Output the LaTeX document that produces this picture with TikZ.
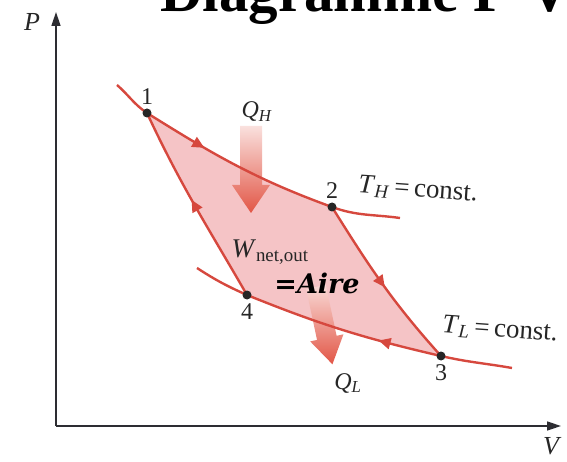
\documentclass[tikz,border=0pt]{standalone}
\usepackage{fontspec}
\setmainfont{Liberation Serif}
\newfontfamily\airefont{DejaVu Serif}
\usetikzlibrary{arrows.meta,decorations.markings}

\definecolor{cyclered}{RGB}{214,72,62}
\definecolor{cyclepink}{RGB}{245,196,198}
\definecolor{heatred}{RGB}{226,86,70}
\definecolor{axisgray}{RGB}{45,45,50}

\tikzset{
  cycleline/.style={cyclered, line width=2.4pt},
  flow/.style={postaction={decorate}, decoration={markings,
      mark=at position #1 with {\arrow{Triangle[length=12pt,width=11pt]}}}},
  backflow/.style={postaction={decorate}, decoration={markings,
      mark=at position #1 with {\arrowreversed{Triangle[length=12pt,width=11pt]}}}},
  statedot/.style={circle, fill=black!85, inner sep=0pt, minimum size=9pt,
      label distance=1pt},
  lbl/.style={text=black!85, font=\fontsize{24}{28}\selectfont},
  biglbl/.style={text=black!85, font=\fontsize{27}{30}\selectfont},
}

\begin{document}
\begin{tikzpicture}[x=1pt,y=1pt]
    \useasboundingbox (0,0) rectangle (567,461);

    % title, cut by the page edge
    \node[anchor=base west, inner sep=0pt, font=\fontsize{59}{60}\selectfont\bfseries]
        (title) at (160,449) {Diagramme P-V};

    % axes
    \coordinate (origin) at (56,35);
    \coordinate (pmax) at (56,449);
    \coordinate (vmax) at (561,35);
    \draw[axisgray, line width=1.6pt, -{Triangle[length=14pt,width=9pt]}] (origin) -- (pmax);
    \draw[axisgray, line width=1.6pt, -{Triangle[length=14pt,width=9pt]}] (origin) -- (vmax);
    \node[biglbl, font=\fontsize{26}{30}\selectfont\itshape] (plabel) at (32,439) {P};
    \node[biglbl, font=\fontsize{26}{30}\selectfont\itshape] (vlabel) at (551,15) {V};

    % states of the cycle
    \coordinate (c1) at (147,348);
    \coordinate (c2) at (332,254);
    \coordinate (c3) at (441,105);
    \coordinate (c4) at (247,166);
    \coordinate (thA) at (117,376);
    \coordinate (thB) at (400,243);
    \coordinate (tlA) at (197,193);
    \coordinate (tlB) at (512,93);

    % enclosed area
    \fill[cyclepink] (c1) to[out=-32,in=160] (c2) to[out=-58,in=132] (c3)
        to[out=167,in=-22] (c4) to[out=120,in=-65] (c1) -- cycle;

    % heat arrows
    \begin{scope}[shift={(251,335)}]
        \shade[top color=heatred!18, bottom color=heatred]
            (-11,0) -- (-11,-59) -- (-19,-59) -- (0,-87) -- (19,-59) -- (11,-59) -- (11,0) -- cycle;
    \end{scope}
    \begin{scope}[shift={(316,174)}, rotate=12]
        \shade[top color=heatred!22, bottom color=heatred]
            (-10,0) -- (-10,-52) -- (-17,-52) -- (0,-79) -- (17,-52) -- (10,-52) -- (10,0) -- cycle;
    \end{scope}

    % isotherms
    \draw[cycleline, flow=0.34] (thA) to[out=-41,in=146] (c1) to[out=-32,in=160] (c2)
        to[out=-20,in=172] (thB);
    \draw[cycleline, backflow=0.59] (tlA) to[out=-33,in=156] (c4) to[out=-22,in=167] (c3)
        to[out=-13,in=170] (tlB);
    % adiabats
    \draw[cycleline, flow=0.52] (c2) to[out=-58,in=132] (c3);
    \draw[cycleline, flow=0.53] (c4) to[out=120,in=-65] (c1);

    \node[statedot, label={[lbl]above:1}] (s1) at (c1) {};
    \node[statedot, label={[lbl]above:2}] (s2) at (c2) {};
    \node[statedot, label={[lbl]below:3}] (s3) at (c3) {};
    \node[statedot, label={[lbl]below:4}] (s4) at (c4) {};

    % labels
    \node[biglbl, rotate=-4] (thlabel) at (418,271) {\textit{T}\textsubscript{\textit{H}}\,=\,const.};
    \node[biglbl, rotate=-4] (tllabel) at (500,131) {\textit{T}\textsubscript{\textit{L}}\,=\,const.};
    \node[lbl] (qhlabel) at (257,349) {\textit{Q}\textsubscript{\textit{H}}};
    \node[lbl] (qllabel) at (348,78) {\textit{Q}\textsubscript{\textit{L}}};
    \node[biglbl] (work) at (270,209) {\textit{W}\textsubscript{net,out}};
    \node[font=\fontsize{27}{30}\airefont\bfseries\itshape] (aire) at (317,178) {=Aire};
\end{tikzpicture}
\end{document}
